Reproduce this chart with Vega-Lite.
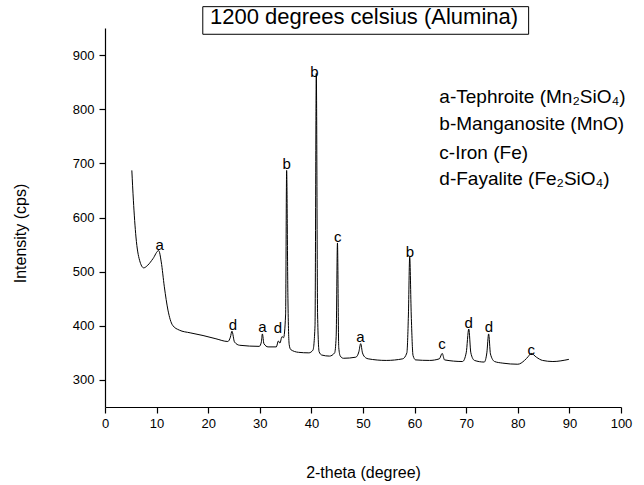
{
  "$schema": "https://vega.github.io/schema/vega-lite/v6.json",
  "width": 516,
  "height": 379,
  "autosize": {"type": "none"},
  "padding": {"left": 105, "top": 28, "right": 23, "bottom": 78},
  "background": "white",
  "config": {"view": {"stroke": null}, "font": "Liberation Sans"},
  "datasets": {
    "pattern": [
      {"t": 5.2, "i": 687}, {"t": 5.5, "i": 632}, {"t": 6.0, "i": 564}, {"t": 6.7, "i": 521},
      {"t": 7.5, "i": 507}, {"t": 8.3, "i": 512}, {"t": 9.3, "i": 524}, {"t": 10.4, "i": 539},
      {"t": 10.9, "i": 518}, {"t": 11.5, "i": 472}, {"t": 12.2, "i": 429}, {"t": 13.1, "i": 401},
      {"t": 14.4, "i": 392}, {"t": 16.5, "i": 387}, {"t": 19.0, "i": 382}, {"t": 21.5, "i": 376},
      {"t": 23.8, "i": 371}, {"t": 24.3, "i": 379},
      {"t": 24.6, "i": 390}, {"t": 25.1, "i": 370}, {"t": 26.1, "i": 364}, {"t": 29.9, "i": 362},
      {"t": 30.3, "i": 370}, {"t": 30.5, "i": 385}, {"t": 30.8, "i": 367}, {"t": 31.6, "i": 361},
      {"t": 33.2, "i": 361}, {"t": 33.6, "i": 372}, {"t": 33.9, "i": 368}, {"t": 34.3, "i": 380},
      {"t": 34.6, "i": 378}, {"t": 35.0, "i": 420}, {"t": 35.2, "i": 687}, {"t": 35.45, "i": 450},
      {"t": 35.7, "i": 365}, {"t": 36.0, "i": 356}, {"t": 37.5, "i": 351}, {"t": 39.5, "i": 350},
      {"t": 40.3, "i": 355}, {"t": 40.7, "i": 400}, {"t": 40.95, "i": 866}, {"t": 41.2, "i": 420},
      {"t": 41.5, "i": 352}, {"t": 42.0, "i": 346}, {"t": 43.5, "i": 344}, {"t": 44.5, "i": 350},
      {"t": 44.8, "i": 380}, {"t": 45.05, "i": 553}, {"t": 45.3, "i": 360}, {"t": 45.6, "i": 344},
      {"t": 46.2, "i": 340}, {"t": 48.6, "i": 342}, {"t": 49.2, "i": 352}, {"t": 49.55, "i": 367},
      {"t": 49.9, "i": 350}, {"t": 50.5, "i": 341}, {"t": 51.0, "i": 339}, {"t": 54.5, "i": 336},
      {"t": 57.7, "i": 339}, {"t": 58.5, "i": 350}, {"t": 58.8, "i": 420}, {"t": 59.05, "i": 527},
      {"t": 59.35, "i": 420}, {"t": 59.7, "i": 345}, {"t": 60.2, "i": 337}, {"t": 62.9, "i": 336},
      {"t": 64.8, "i": 339}, {"t": 65.35, "i": 349}, {"t": 65.8, "i": 337}, {"t": 69.3, "i": 334},
      {"t": 70.0, "i": 350}, {"t": 70.5, "i": 394}, {"t": 70.9, "i": 350}, {"t": 71.6, "i": 336},
      {"t": 73.5, "i": 333}, {"t": 74.0, "i": 350}, {"t": 74.35, "i": 385}, {"t": 74.7, "i": 348},
      {"t": 75.5, "i": 334}, {"t": 77.1, "i": 331}, {"t": 80.0, "i": 329}, {"t": 81.3, "i": 336},
      {"t": 82.0, "i": 343}, {"t": 82.6, "i": 349}, {"t": 83.6, "i": 342}, {"t": 84.8, "i": 336},
      {"t": 86.8, "i": 334}, {"t": 89.9, "i": 338}
    ],
    "peaks": [
      {"t": 10.6, "i": 550, "lab": "a"}, {"t": 24.8, "i": 401, "lab": "d"},
      {"t": 30.5, "i": 398, "lab": "a"}, {"t": 33.5, "i": 395, "lab": "d"},
      {"t": 35.2, "i": 699, "lab": "b"}, {"t": 40.6, "i": 869, "lab": "b"},
      {"t": 45.1, "i": 564, "lab": "c"}, {"t": 49.5, "i": 379, "lab": "a"},
      {"t": 59.1, "i": 536, "lab": "b"}, {"t": 65.3, "i": 366, "lab": "c"},
      {"t": 70.5, "i": 405, "lab": "d"}, {"t": 74.4, "i": 397, "lab": "d"},
      {"t": 82.6, "i": 355, "lab": "c"}
    ],
    "legend": [
      {"t": 64.8, "i": 822, "lab": "a-Tephroite (Mn₂SiO₄)"},
      {"t": 64.8, "i": 772, "lab": "b-Manganosite (MnO)"},
      {"t": 64.8, "i": 720, "lab": "c-Iron (Fe)"},
      {"t": 64.8, "i": 671, "lab": "d-Fayalite (Fe₂SiO₄)"}
    ],
    "heading": [
      {"t": 50.2, "i": 970, "t0": 18.95, "t1": 82.1, "i0": 938.4, "i1": 989.4, "lab": "1200 degrees celsius (Alumina)"}
    ]
  },
  "layer": [
    {
      "data": {"name": "pattern"},
      "mark": {"type": "line", "color": "black", "strokeWidth": 1, "interpolate": "monotone"},
      "encoding": {
        "x": {
          "field": "t", "type": "quantitative",
          "scale": {"domain": [0, 100], "nice": false, "zero": false},
          "axis": {
            "values": [0, 5, 10, 15, 20, 25, 30, 35, 40, 45, 50, 55, 60, 65, 70, 75, 80, 85, 90, 95, 100],
            "labelExpr": "datum.value % 10 === 0 ? datum.label : ''",
            "tickSize": {"condition": {"test": "datum.value % 10 === 0", "value": 6}, "value": 3.5},
            "title": "2-theta (degree)",
            "grid": false,
            "domainColor": "black", "tickColor": "black", "labelColor": "black", "titleColor": "black",
            "domainWidth": 1.2, "tickWidth": 1.2,
            "labelFont": "Liberation Sans", "labelFontSize": 13, "labelPadding": 4,
            "labelFlush": false, "labelOverlap": false,
            "titleFont": "Liberation Sans", "titleFontSize": 16, "titleFontWeight": "normal",
            "titleY": 65, "titleBaseline": "middle"
          }
        },
        "y": {
          "field": "i", "type": "quantitative",
          "scale": {"domain": [250, 950], "nice": false, "zero": false},
          "axis": {
            "values": [300, 350, 400, 450, 500, 550, 600, 650, 700, 750, 800, 850, 900, 950],
            "labelExpr": "datum.value % 100 === 0 ? datum.label : ''",
            "tickSize": {"condition": {"test": "datum.value % 100 === 0", "value": 6}, "value": 3.5},
            "title": "Intensity (cps)",
            "grid": false,
            "domainColor": "black", "tickColor": "black", "labelColor": "black", "titleColor": "black",
            "domainWidth": 1.2, "tickWidth": 1.2,
            "labelFont": "Liberation Sans", "labelFontSize": 13, "labelPadding": 5,
            "labelFlush": false, "labelOverlap": false,
            "titleFont": "Liberation Sans", "titleFontSize": 16, "titleFontWeight": "normal",
            "titleX": -84.5, "titleY": 205, "titleAlign": "center", "titleBaseline": "middle"
          }
        }
      }
    },
    {
      "data": {"name": "peaks"},
      "mark": {"type": "text", "color": "black", "font": "Liberation Sans", "fontSize": 15, "align": "center", "baseline": "middle"},
      "encoding": {
        "x": {"field": "t", "type": "quantitative", "scale": {"domain": [0, 100], "nice": false, "zero": false}},
        "y": {"field": "i", "type": "quantitative", "scale": {"domain": [250, 950], "nice": false, "zero": false}},
        "text": {"field": "lab"}
      }
    },
    {
      "data": {"name": "legend"},
      "mark": {"type": "text", "color": "black", "font": "Liberation Sans", "fontSize": 19, "align": "left", "baseline": "middle"},
      "encoding": {
        "x": {"field": "t", "type": "quantitative", "scale": {"domain": [0, 100], "nice": false, "zero": false}},
        "y": {"field": "i", "type": "quantitative", "scale": {"domain": [250, 950], "nice": false, "zero": false}},
        "text": {"field": "lab"}
      }
    },
    {
      "data": {"name": "heading"},
      "mark": {"type": "rect", "fill": null, "fillOpacity": 0, "stroke": "black", "strokeWidth": 1},
      "encoding": {
        "x": {"field": "t0", "type": "quantitative", "scale": {"domain": [0, 100], "nice": false, "zero": false}},
        "x2": {"field": "t1"},
        "y": {"field": "i0", "type": "quantitative", "scale": {"domain": [250, 950], "nice": false, "zero": false}},
        "y2": {"field": "i1"}
      }
    },
    {
      "data": {"name": "heading"},
      "mark": {"type": "text", "color": "black", "font": "Liberation Sans", "fontSize": 22, "align": "center", "baseline": "middle"},
      "encoding": {
        "x": {"field": "t", "type": "quantitative", "scale": {"domain": [0, 100], "nice": false, "zero": false}},
        "y": {"field": "i", "type": "quantitative", "scale": {"domain": [250, 950], "nice": false, "zero": false}},
        "text": {"field": "lab"}
      }
    }
  ]
}
